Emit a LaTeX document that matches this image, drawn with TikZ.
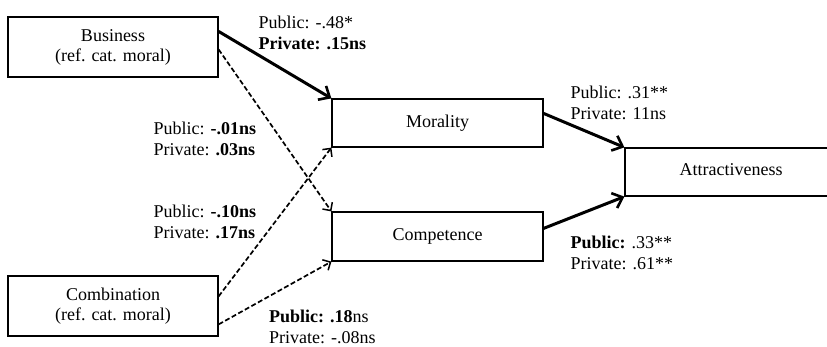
\documentclass[tikz,border=0pt]{standalone}
\usepackage{fontspec}
\setmainfont{Liberation Serif}
\usetikzlibrary{arrows.meta}
\begin{document}
\begin{tikzpicture}[x=1pt,y=-1pt,
  box/.style={font=\fontsize{18}{20}\selectfont,draw,line width=1.2pt,rectangle,inner sep=0pt,align=center},
  lbl/.style={font=\fontsize{18}{21}\selectfont,anchor=north west,inner sep=0pt,align=left},
  thickarr/.style={line width=3pt,-{Straight Barb[length=9pt,width=16pt,line width=2.6pt]}},
  dasharr/.style={line width=1.7pt,dash pattern=on 5pt off 2.5pt,-{Straight Barb[length=6pt,width=12pt,line width=1.5pt]}}
]
\useasboundingbox (0,0) rectangle (827,346);
\node[box,minimum width=210pt,minimum height=60pt] (bus) at (113,47) {Business\\(ref. cat. moral)};
\node[box,minimum width=210pt,minimum height=60pt] (comb) at (113,306) {Combination\\(ref. cat. moral)};
\node[box,minimum width=211pt,minimum height=48pt] (mor) at (437.5,123) {\raisebox{4pt}{Morality}};
\node[box,minimum width=211pt,minimum height=49pt] (comp) at (437.5,236.5) {\raisebox{4pt}{Competence}};
\node[box,minimum width=212pt,minimum height=48pt] (attr) at (731,172) {\raisebox{4pt}{Attractiveness}};

\draw[thickarr] ([yshift=-15pt]bus.north east) -- (mor.north west);
\draw[dasharr] ([yshift=-33pt]bus.north east) -- (comp.north west);
\draw[dasharr] ([yshift=-21pt]comb.north east) -- (mor.south west);
\draw[dasharr] ([yshift=-49pt]comb.north east) -- (comp.south west);
\draw[thickarr] ([yshift=-15pt]mor.north east) -- (attr.north west);
\draw[thickarr] ([yshift=-17pt]comp.north east) -- (attr.south west);

\node[lbl] (l1) at (258.5,15.7) {Public: -.48*\\\textbf{Private: .15ns}};
\node[lbl] (l2) at (153.5,121.7) {Public: \textbf{-.01ns}\\Private: \textbf{.03ns}};
\node[lbl] (l3) at (153.5,204.7) {Public: \textbf{-.10ns}\\Private: \textbf{.17ns}};
\node[lbl] (l4) at (269,310) {\textbf{Public: .18}ns\\Private: -.08ns};
\node[lbl] (l5) at (570.5,85.7) {Public: .31**\\Private: 11ns};
\node[lbl] (l6) at (570.5,235.7) {\textbf{Public:} .33**\\Private: .61**};
\end{tikzpicture}
\end{document}
